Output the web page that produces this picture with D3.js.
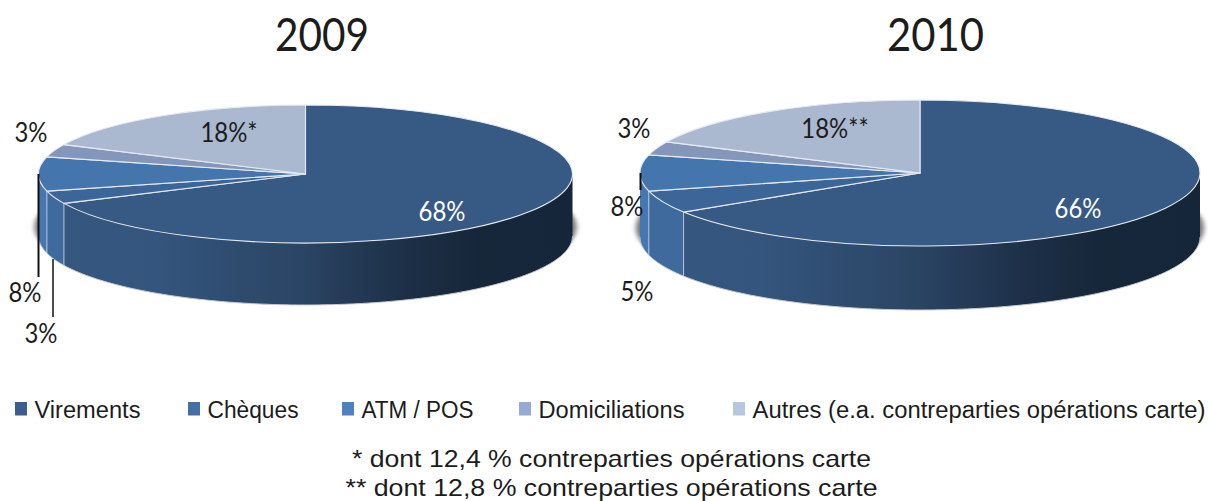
<!DOCTYPE html>
<html>
<head>
<meta charset="utf-8">
<script src="https://cdn.jsdelivr.net/npm/d3@7"></script>
<style>
  html, body { margin: 0; padding: 0; background: #fff; }
  svg { display: block; }
  text { fill: #1c1c1c; }
  .title, .pct { font-family: Lato, sans-serif; }
  .legend, .note { font-family: "Liberation Sans", sans-serif; }
</style>
</head>
<body>
<div id="wrapper"></div>
<script>
// data
const categories = ["Virements", "Chèques", "ATM / POS", "Domiciliations", "Autres (e.a. contreparties opérations carte)"];
const values2009 = [68, 3, 8, 3, 18];
const values2010 = [66, 5, 8, 3, 18];
const suffix2009 = ["", "", "", "", "*"];
const suffix2010 = ["", "", "", "", "**"];
const notes = ["* dont 12,4 % contreparties opérations carte", "** dont 12,8 % contreparties opérations carte"];

const topColors = ["#375a85", "#3d6698", "#4575ad", "#8497bb", "#aab8d0"];
const wallColors = ["#375a85", "#3f6a9e", "#4777b0", "#8497bb", "#aab8d0"];
const legendColors = ["#3a5f8f", "#436fa5", "#4f81bd", "#95abd3", "#b9c6e0"];
const legendX = [15, 188, 342, 519, 733];
const legendWidth = [106, 91, 112, 146, 453];
const noteWidth = [519, 532];

const width = 1208;
const height = 501;

const charts = [
  {
    id: "p2009", title: "2009", titleX: 322, titleWidth: 94, values: values2009, suffix: suffix2009,
    cx: 305.5, cy: 174, rx: 267, ry: 69, depth: 62,
    // label anchor points, in order of the categories
    labels: [[442, 221], [41, 343], [25, 302], [31, 142], [229, 142]],
    leaders: [[38.5, 174, 277, 2], [53, 259, 317, 1.5]],
  },
  {
    id: "p2010", title: "2010", titleX: 935.5, titleWidth: 97, values: values2010, suffix: suffix2010,
    cx: 920, cy: 173, rx: 280, ry: 73, depth: 64,
    labels: [[1078, 218], [637, 301], [627, 216], [634, 138], [835, 138]],
    leaders: [[640.5, 173, 190, 2]],
  },
];

const svg = d3.select("#wrapper").append("svg")
  .attr("width", width)
  .attr("height", height);

const defs = svg.append("defs");
defs.append("filter").attr("id", "soft")
  .attr("x", "-5%").attr("y", "-10%").attr("width", "110%").attr("height", "120%")
  .append("feGaussianBlur").attr("stdDeviation", 2.5);

const pie = d3.pie().sort(null);
const front = [Math.PI / 2, Math.PI * 1.5];

function drawPie(c) {
  const slices = pie(c.values);
  const px = (a) => c.cx + c.rx * Math.sin(a);
  const py = (a) => c.cy - c.ry * Math.cos(a);

  // shading of the big wall runs from left to right
  const grad = defs.append("linearGradient").attr("id", "wall-" + c.id)
    .attr("gradientUnits", "userSpaceOnUse")
    .attr("x1", c.cx - c.rx).attr("x2", c.cx + c.rx)
    .attr("y1", 0).attr("y2", 0);
  [[0, "#36587f"], [0.22, "#34557d"], [0.5, "#2a4463"], [0.68, "#1d3048"], [0.82, "#17273a"], [1, "#16263a"]]
    .forEach((s) => grad.append("stop").attr("offset", s[0]).attr("stop-color", s[1]));

  const g = svg.append("g").attr("class", "pie");

  // shadow below the disc
  g.append("g")
    .attr("transform", `translate(${c.cx},${c.cy + c.depth - 9}) scale(1,${c.ry / c.rx})`)
    .append("path")
    .attr("d", d3.arc().innerRadius(0).outerRadius(c.rx + 4)({ startAngle: 0, endAngle: 2 * Math.PI }))
    .attr("fill", "#777")
    .attr("filter", "url(#soft)");

  // walls
  const wallArea = d3.area()
    .x((a) => px(a))
    .y0((a) => py(a))
    .y1((a) => py(a) + c.depth);

  slices.forEach((s) => {
    const a0 = Math.max(s.startAngle, front[0]);
    const a1 = Math.min(s.endAngle, front[1]);
    if (a1 <= a0) return;
    const steps = d3.range(a0, a1, 0.01).concat([a1]);
    g.append("path")
      .attr("d", wallArea(steps))
      .attr("fill", s.index === 0 ? `url(#wall-${c.id})` : wallColors[s.index]);
    // bottom rim
    g.append("path")
      .attr("d", d3.line().x(px).y((a) => py(a) + c.depth)(steps))
      .attr("fill", "none")
      .attr("stroke", "#c9ccd0")
      .attr("stroke-width", 1);
  });

  // seams on the wall
  slices.forEach((s) => {
    const a = s.endAngle;
    if (a <= front[0] || a >= front[1]) return;
    g.append("line")
      .attr("x1", px(a)).attr("x2", px(a))
      .attr("y1", py(a)).attr("y2", py(a) + c.depth)
      .attr("stroke", "#b9c6da")
      .attr("stroke-width", 1);
  });

  // top of the disc
  const top = g.append("g")
    .attr("transform", `translate(${c.cx},${c.cy}) scale(1,${c.ry / c.rx})`);
  const arc = d3.arc().innerRadius(0).outerRadius(c.rx);
  top.selectAll("path")
    .data(slices)
    .join("path")
    .attr("d", arc)
    .attr("fill", (d) => topColors[d.index])
    .attr("stroke", "#e6eaf0")
    .attr("stroke-width", 1.1)
    .attr("vector-effect", "non-scaling-stroke")
    .attr("stroke-linejoin", "round");

  // leader lines
  c.leaders.forEach((l) => {
    svg.append("line")
      .attr("x1", l[0]).attr("x2", l[0])
      .attr("y1", l[1]).attr("y2", l[2])
      .attr("stroke", "#111")
      .attr("stroke-width", l[3]);
  });

  // percentages, squeezed a bit since the original font is narrower
  svg.append("g").selectAll("text")
    .data(slices)
    .join("text")
    .attr("class", "pct")
    .attr("x", (d) => c.labels[d.index][0])
    .attr("y", (d) => c.labels[d.index][1])
    .attr("text-anchor", "middle")
    .attr("lengthAdjust", "spacingAndGlyphs")
    .style("font-size", "26px")
    .style("fill", (d) => (d.index === 0 ? "#fff" : null))
    .text((d) => d.value + "%" + c.suffix[d.index])
    .attr("textLength", function () { return this.getComputedTextLength() * 0.92; });

  svg.append("text")
    .attr("class", "title")
    .attr("x", c.titleX)
    .attr("y", 51)
    .attr("text-anchor", "middle")
    .attr("textLength", c.titleWidth)
    .attr("lengthAdjust", "spacingAndGlyphs")
    .style("font-size", "46px")
    .text(c.title);
}

charts.forEach(drawPie);

// legend
const legend = svg.append("g").selectAll("g")
  .data(categories)
  .join("g")
  .attr("class", "legend")
  .attr("transform", (d, i) => `translate(${legendX[i]},0)`);

legend.append("rect")
  .attr("y", 402)
  .attr("width", 12)
  .attr("height", 13.5)
  .attr("fill", (d, i) => legendColors[i]);

legend.append("text")
  .attr("x", 19.5)
  .attr("y", 417.5)
  .attr("textLength", (d, i) => legendWidth[i])
  .attr("lengthAdjust", "spacingAndGlyphs")
  .style("font-size", "23.5px")
  .text((d) => d);

// footnotes
svg.append("g").selectAll("text")
  .data(notes)
  .join("text")
  .attr("class", "note")
  .attr("x", 611.5)
  .attr("y", (d, i) => 467 + i * 28.5)
  .attr("text-anchor", "middle")
  .attr("textLength", (d, i) => noteWidth[i])
  .attr("lengthAdjust", "spacingAndGlyphs")
  .style("font-size", "24px")
  .text((d) => d);
</script>
</body>
</html>
